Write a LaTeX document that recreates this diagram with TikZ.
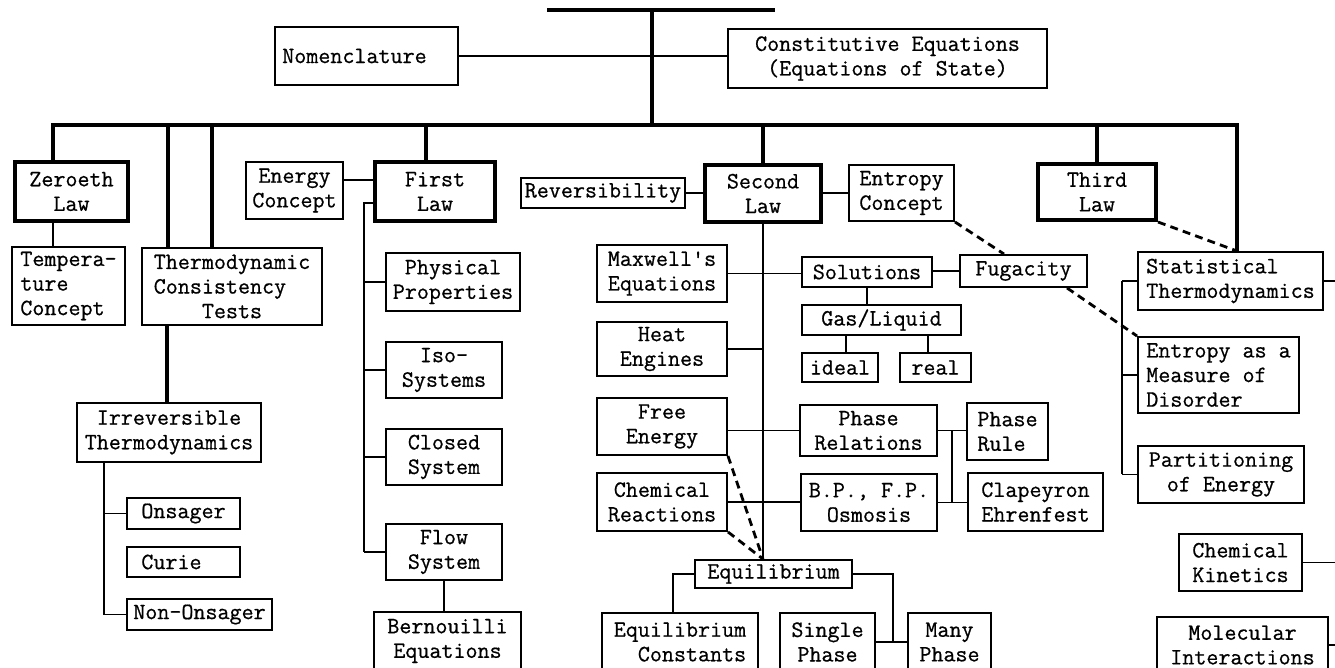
\documentclass[tikz,border=0pt]{standalone}
\usepackage{fontspec}
\setmonofont{Latin Modern Mono}[FakeBold=0.7]
\begin{document}
\begin{tikzpicture}[x=0.02cm, y=-0.02cm,
  every node/.style={font=\fontsize{13.3}{14}\selectfont\ttfamily},
  box/.style={draw, line width=1.1pt, align=center, inner sep=1pt},
  law/.style={box, line width=2.3pt},
  sz/.style 2 args={minimum width=#1*0.02cm, minimum height=#2*0.02cm},
  bar/.style={line width=2.5pt},
  link/.style={line width=1.1pt},
  hint/.style={line width=1.6pt, dash pattern=on 4.5pt off 3pt}]

  \clip (0,0) rectangle (1335,668);

  \node[box, sz={183}{58}] (nom) at (366.5,56) {Nomenclature\phantom{xx}};
  \node[box, sz={319}{59}] (const) at (887.5,58.5) {Constitutive Equations\\(Equations of State)};

  \node[law, sz={113}{59}] (zero) at (71.5,191.5) {Zeroeth\\Law};
  \node[box, sz={113}{78}, align=left] (temp) at (68.5,286) {Tempera-\\ture\\Concept};
  \node[box, sz={180}{77}, align=left] (tct) at (232,286.5) {Thermodynamic\\Consistency\\\phantom{xxxx}Tests};
  \node[box, sz={184}{59}] (irr) at (169,432.5) {Irreversible\\Thermodynamics};
  \node[box, sz={113}{31}] (ons) at (183.5,513.5) {Onsager};
  \node[box, sz={113}{30}] (curie) at (183.5,562) {Curie\phantom{xx}};
  \node[box, sz={145}{31}] (nons) at (199.5,614.5) {Non-Onsager};

  \node[box, sz={97}{57}] (energy) at (294.5,190.5) {Energy\\Concept};
  \node[law, sz={120}{59}] (first) at (435,191.5) {First\\Law};
  \node[box, sz={134}{58}] (phys) at (453,282) {Physical\\Properties};
  \node[box, sz={116}{56}] (iso) at (444,370) {Iso-\\Systems};
  \node[box, sz={116}{56}] (closed) at (444,457) {Closed\\System};
  \node[box, sz={116}{56}] (flow) at (444,552) {Flow\\System};
  \node[box, sz={147}{58}] (bern) at (447.5,641) {Bernouilli\\Equations};

  \node[box, sz={164}{30}] (rev) at (603,193) {Reversibility};
  \node[law, sz={116}{57}] (second) at (763,193.5) {Second\\Law};
  \node[box, sz={105}{56}] (entropy) at (901.5,193) {Entropy\\Concept};
  \node[law, sz={118}{56}] (third) at (1097,192) {Third\\Law};

  \node[box, sz={130}{57}] (maxw) at (662,273.5) {Maxwell\textquotesingle s\\Equations};
  \node[box, sz={130}{54}] (heat) at (662,349) {Heat\\Engines};
  \node[box, sz={130}{57}] (free) at (662,426.5) {Free\\Energy};
  \node[box, sz={130}{58}] (chem) at (662,502) {Chemical\\Reactions};
  \node[box, sz={130}{30}] (sol) at (867,272) {Solutions};
  \node[box, sz={127}{32}] (fug) at (1023.5,271) {Fugacity};
  \node[box, sz={159}{30}] (gas) at (881.5,320) {Gas/Liquid};
  \node[box, sz={76}{29}] (ideal) at (840,367.5) {ideal};
  \node[box, sz={71}{29}] (real) at (935.5,367.5) {real};
  \node[box, sz={137}{51}] (phrel) at (868.5,430.5) {Phase\\Relations};
  \node[box, sz={136}{57}] (bp) at (869,502.5) {B.P., F.P.\\Osmosis};
  \node[box, sz={81}{57}, align=left] (prule) at (1007.5,431.5) {Phase\\Rule};
  \node[box, sz={135}{58}] (clap) at (1035.5,502) {Clapeyron\\Ehrenfest};
  \node[box, sz={157}{28}] (equil) at (773.5,574) {Equilibrium};
  \node[box, sz={156}{58}] (eqconst) at (680,642) {Equilibrium\\\phantom{xx}Constants};
  \node[box, sz={95}{58}] (single) at (827.5,642) {Single\\Phase};
  \node[box, sz={83}{58}] (many) at (949.5,642) {Many\\Phase};

  \node[box, sz={185}{58}, align=left] (stat) at (1230.5,281) {Statistical\\Thermodynamics};
  \node[box, sz={161}{76}, align=left] (measure) at (1218.5,375) {Entropy as a\\Measure of\\Disorder};
  \node[box, sz={166}{57}] (part) at (1221,474.5) {Partitioning\\of Energy};
  \node[box, sz={123}{57}, align=left] (kin) at (1240.5,562.5) {Chemical\\Kinetics};
  \node[box, sz={171}{56}] (mol) at (1242.5,645) {Molecular\\Interactions};

  \coordinate (tl) at (547,10);
  \coordinate (tr) at (775,10);
  \coordinate (hub) at (652,10);
  \coordinate (bl) at (53,125);
  \coordinate (br) at (1237,125);
  \coordinate (meet) at (second.south |- equil.north);

  \draw[bar] (tl) -- (tr);
  \draw[bar] (hub) -- (hub |- bl);
  \draw[bar] (bl |- zero.north) -- (bl) -- (br) -- (br |- stat.north);
  \foreach \x/\n in {168/tct, 212/tct, 426/first}
    \draw[bar] (\x,0 |- bl) -- (\x,0 |- \n.north);
  \draw[bar] (second.north) -- (second.north |- bl);
  \draw[bar] (third.north) -- (third.north |- bl);
  \draw[bar] (167,0 |- tct.south) -- (167,0 |- irr.north);

  \draw[link] (nom.east) -- (nom.east -| const.west);
  \draw[link] (53,0 |- zero.south) -- (53,0 |- temp.north);
  \draw[link] (energy.east |- 0,180) -- (first.west |- 0,180);
  \draw[link] (first.west |- 0,203) -- (364,203) -- (364,0 |- flow.west);
  \foreach \n in {phys, iso, closed, flow}
    \draw[link] (364,0 |- \n.west) -- (\n.west);
  \draw[link] (flow.south) -- (flow.south |- bern.north);
  \draw[link] (104,0 |- irr.south) -- (104,0 |- nons.west);
  \foreach \n in {ons, nons}
    \draw[link] (104,0 |- \n.west) -- (\n.west);

  \draw[link] (rev.east) -- (rev.east -| second.west);
  \draw[link] (second.east |- entropy.west) -- (entropy.west);
  \draw[link] (second.south) -- (meet);
  \draw[link] (maxw.east) -- (maxw.east -| sol.west);
  \draw[link] (heat.east) -- (heat.east -| second.south);
  \draw[link] (free.east |- phrel.west) -- (phrel.west);
  \draw[link] (chem.east) -- (chem.east -| bp.west);
  \draw[link] (sol.east |- fug.west) -- (fug.west);
  \draw[link] (sol.south) -- (sol.south |- gas.north);
  \draw[link] (846,0 |- gas.south) -- (846,0 |- ideal.north);
  \draw[link] (928,0 |- gas.south) -- (928,0 |- real.north);
  \draw[link] (phrel.east) -- (phrel.east -| prule.west);
  \draw[link] (952,0 |- phrel.east) -- (952,0 |- bp.east);
  \draw[link] (bp.east) -- (bp.east -| clap.west);
  \draw[link] (equil.west) -| (673,0 |- eqconst.north);
  \draw[link] (equil.east) -| (893,0 |- single.east);
  \draw[link] (single.east) -- (many.west);

  \draw[link] (1122,0 |- stat.west) -- (1122,0 |- part.west);
  \foreach \n in {stat, measure, part}
    \draw[link] (1122,0 |- \n.west) -- (\n.west);
  \foreach \n in {stat, kin, mol}
    \draw[link] (\n.east) -- (\n.east -| 1345,0);

  \draw[hint] (free.south east) -- (meet);
  \draw[hint] (chem.south east) -- (meet);
  \draw[hint] (entropy.south east) -- (1004,0 |- fug.north);
  \draw[hint] (1067,0 |- fug.south) -- (measure.north west);
  \draw[hint] (third.south east) -- (br |- stat.north);

\end{tikzpicture}
\end{document}
